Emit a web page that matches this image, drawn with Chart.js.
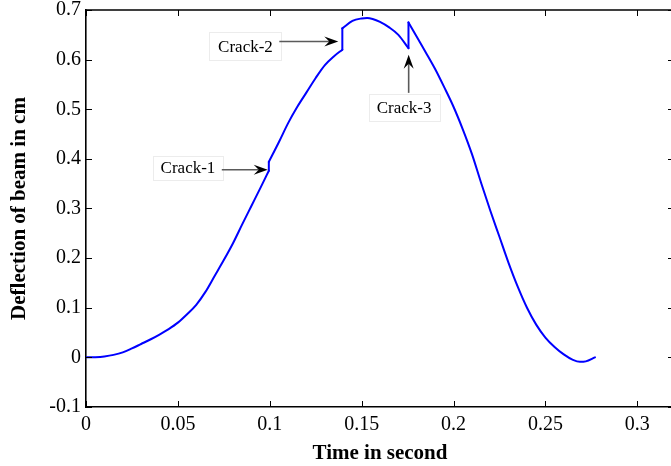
<!DOCTYPE html>
<html>
<head>
<meta charset="utf-8">
<script src="https://cdn.jsdelivr.net/npm/chart.js@4.4.1/dist/chart.umd.min.js"></script>
<style>
  html, body { margin: 0; padding: 0; background: #fff; overflow: hidden; }
  #wrap { width: 676px; height: 466px; }
</style>
</head>
<body>
<div id="wrap"><canvas id="c" width="676" height="466"></canvas></div>
<script>
// ---- data ----
const timeValues = [
  0, 0.005, 0.010, 0.015, 0.020, 0.025, 0.030, 0.035, 0.040, 0.045,
  0.050, 0.055, 0.060, 0.065, 0.070, 0.075, 0.080, 0.085, 0.090, 0.095,
  0.0995, 0.0995, 0.105, 0.110, 0.115, 0.120, 0.125, 0.130, 0.135, 0.1395,
  0.1395, 0.145, 0.150, 0.153, 0.156, 0.160, 0.165, 0.170, 0.1755,
  0.1755, 0.180, 0.185, 0.190, 0.195, 0.200, 0.205, 0.210, 0.215, 0.220,
  0.225, 0.230, 0.235, 0.240, 0.245, 0.250, 0.255, 0.260, 0.265, 0.2688,
  0.272, 0.277
];
const deflectionValues = [
  0, 0.0005, 0.002, 0.005, 0.010, 0.018, 0.027, 0.036, 0.046, 0.057,
  0.070, 0.087, 0.106, 0.132, 0.164, 0.196, 0.230, 0.268, 0.305, 0.342,
  0.376, 0.394, 0.434, 0.472, 0.505, 0.534, 0.563, 0.589, 0.607, 0.620,
  0.663, 0.678, 0.683, 0.684, 0.682, 0.676, 0.665, 0.650, 0.623,
  0.675, 0.646, 0.614, 0.581, 0.544, 0.505, 0.460, 0.410, 0.352, 0.296,
  0.243, 0.190, 0.142, 0.100, 0.066, 0.040, 0.021, 0.006, -0.005, -0.009,
  -0.008, 0.000
];
const xTicks = [0, 0.05, 0.1, 0.15, 0.2, 0.25, 0.3];
const xTickLabels = ['0', '0.05', '0.1', '0.15', '0.2', '0.25', '0.3'];
const yTicks = [-0.1, 0, 0.1, 0.2, 0.3, 0.4, 0.5, 0.6, 0.7];
const yTickLabels = ['-0.1', '0', '0.1', '0.2', '0.3', '0.4', '0.5', '0.6', '0.7'];
const annotationTexts = ['Crack-1', 'Crack-2', 'Crack-3'];

// annotation placement in data coordinates
const annotations = [
  { text: annotationTexts[0], label: [0.0555, 0.382], w: 70, h: 24, tail: [0.0739, 0.378], tip: [0.0989, 0.378] },
  { text: annotationTexts[1], label: [0.0868, 0.627], w: 72, h: 28, tail: [0.1052, 0.6365], tip: [0.1373, 0.6365] },
  { text: annotationTexts[2], label: [0.1731, 0.504], w: 71, h: 27, tail: [0.1756, 0.533], tip: [0.1756, 0.610] }
];

const points = timeValues.map((t, i) => ({ x: t, y: deflectionValues[i] }));
const SERIF = '"Liberation Serif", "Times New Roman", serif';

// split the curve at the crack jumps (repeated time values): smooth pieces + straight jumps
const datasets = [];
const lineStyle = { borderColor: '#0000ff', borderWidth: 2, pointRadius: 0, fill: false, borderCapStyle: 'round', borderJoinStyle: 'round' };
let start = 0;
for (let i = 1; i <= points.length; i++) {
  if (i === points.length || timeValues[i] === timeValues[i - 1]) {
    datasets.push(Object.assign({ data: points.slice(start, i), cubicInterpolationMode: 'monotone' }, lineStyle));
    if (i < points.length) {
      datasets.push(Object.assign({ data: points.slice(i - 1, i + 1), tension: 0 }, lineStyle));
    }
    start = i;
  }
}

const boxTicks = {
  id: 'boxTicks',
  afterDatasetsDraw(chart) {
    const { ctx, chartArea: a, scales: { x, y } } = chart;
    ctx.save();
    ctx.strokeStyle = '#000';
    ctx.lineWidth = 1;
    const L = 6;
    xTicks.forEach(v => {
      const px = Math.round(x.getPixelForValue(v)) + 0.5;
      ctx.beginPath();
      ctx.moveTo(px, a.bottom); ctx.lineTo(px, a.bottom - L);
      ctx.moveTo(px, a.top); ctx.lineTo(px, a.top + L);
      ctx.stroke();
    });
    yTicks.forEach(v => {
      const py = Math.round(y.getPixelForValue(v)) + 0.5;
      ctx.beginPath();
      ctx.moveTo(a.left, py); ctx.lineTo(a.left + L, py);
      ctx.moveTo(a.right, py); ctx.lineTo(a.right - L, py);
      ctx.stroke();
    });
    ctx.lineWidth = 1.6;
    ctx.beginPath();
    ctx.moveTo(a.left, a.top); ctx.lineTo(a.right, a.top); ctx.lineTo(a.right, a.bottom);
    ctx.stroke();
    ctx.restore();
  }
};

const crackNotes = {
  id: 'crackNotes',
  afterDatasetsDraw(chart) {
    const { ctx, scales: { x, y } } = chart;
    ctx.save();
    annotations.forEach(an => {
      const cx = x.getPixelForValue(an.label[0]);
      const cy = y.getPixelForValue(an.label[1]);
      ctx.fillStyle = '#fff';
      ctx.strokeStyle = '#ececec';
      ctx.lineWidth = 1;
      ctx.fillRect(cx - an.w / 2, cy - an.h / 2, an.w, an.h);
      ctx.strokeRect(Math.round(cx - an.w / 2) + 0.5, Math.round(cy - an.h / 2) + 0.5, an.w, an.h);
      ctx.fillStyle = '#000';
      ctx.font = '17px ' + SERIF;
      ctx.textAlign = 'center';
      ctx.textBaseline = 'middle';
      ctx.fillText(an.text, cx, cy + 1);

      const tx = x.getPixelForValue(an.tail[0]), ty = y.getPixelForValue(an.tail[1]);
      const hx = x.getPixelForValue(an.tip[0]), hy = y.getPixelForValue(an.tip[1]);
      const ang = Math.atan2(hy - ty, hx - tx);
      const len = 14, hw = 5, notch = 9;
      const bx = hx - Math.cos(ang) * notch, by = hy - Math.sin(ang) * notch;
      ctx.strokeStyle = '#5a5a5a';
      ctx.lineWidth = 1.6;
      ctx.beginPath();
      ctx.moveTo(tx, ty); ctx.lineTo(bx, by);
      ctx.stroke();
      const backX = hx - Math.cos(ang) * len, backY = hy - Math.sin(ang) * len;
      const nx = -Math.sin(ang), ny = Math.cos(ang);
      ctx.fillStyle = '#000';
      ctx.beginPath();
      ctx.moveTo(hx, hy);
      ctx.lineTo(backX + nx * hw, backY + ny * hw);
      ctx.lineTo(bx, by);
      ctx.lineTo(backX - nx * hw, backY - ny * hw);
      ctx.closePath();
      ctx.fill();
    });
    ctx.restore();
  }
};

new Chart(document.getElementById('c'), {
  type: 'line',
  data: { datasets: datasets },
  options: {
    responsive: false,
    animation: false,
    events: [],
    layout: { padding: { top: 10, right: 2, left: 0, bottom: 0 } },
    plugins: { legend: { display: false }, tooltip: { enabled: false } },
    scales: {
      x: {
        type: 'linear',
        min: 0, max: 0.32,
        afterBuildTicks: s => { s.ticks = xTicks.map(v => ({ value: v })); },
        afterFit: s => { s.height = 59; s.paddingLeft = 0; s.paddingRight = 0; },
        grid: { display: false, drawTicks: false },
        border: { display: true, color: '#000', width: 1.6 },
        ticks: {
          padding: 6,
          color: '#000',
          font: { family: SERIF, size: 20 },
          maxRotation: 0,
          autoSkip: false,
          callback: v => { const i = xTicks.findIndex(t => Math.abs(t - v) < 1e-9); return i >= 0 ? xTickLabels[i] : ''; }
        },
        title: {
          display: true,
          text: 'Time in second',
          color: '#000',
          font: { family: SERIF, size: 21, weight: 'bold', lineHeight: 1 },
          padding: { top: 0, bottom: 2 }
        }
      },
      y: {
        type: 'linear',
        min: -0.1, max: 0.7,
        afterBuildTicks: s => { s.ticks = yTicks.map(v => ({ value: v })); },
        afterFit: s => { s.width = 86; s.paddingTop = 0; s.paddingBottom = 0; },
        grid: { display: false, drawTicks: false },
        border: { display: true, color: '#000', width: 1.6 },
        ticks: {
          padding: 5,
          color: '#000',
          font: { family: SERIF, size: 20 },
          autoSkip: false,
          callback: v => { const i = yTicks.findIndex(t => Math.abs(t - v) < 1e-9); return i >= 0 ? yTickLabels[i] : ''; }
        },
        title: {
          display: true,
          text: 'Deflection of beam in cm',
          color: '#000',
          font: { family: SERIF, size: 21, weight: 'bold', lineHeight: 1 },
          padding: { top: 9, bottom: 0 }
        }
      }
    }
  },
  plugins: [boxTicks, crackNotes]
});
</script>
</body>
</html>
